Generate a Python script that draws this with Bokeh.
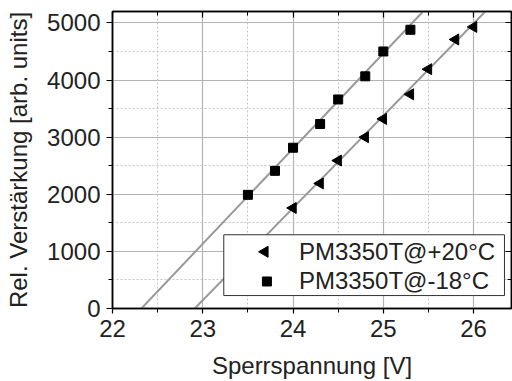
import numpy as np
from bokeh.plotting import figure
from bokeh.models import (LinearAxis, SingleIntervalTicker, Range1d, Legend,
                          LegendItem, Grid)
from bokeh.embed import file_html
from bokeh.resources import INLINE

# data
v_p20 = [24.0, 24.3, 24.5, 24.8, 25.0, 25.3, 25.5, 25.8, 26.0]
g_p20 = [1760, 2190, 2590, 3000, 3320, 3750, 4190, 4710, 4930]
v_m18 = [23.5, 23.8, 24.0, 24.3, 24.5, 24.8, 25.0, 25.3]
g_m18 = [1990, 2410, 2815, 3230, 3660, 4065, 4500, 4880]
# fitted line endpoints (V, gain)
fit_p20_x = [22.91, 26.13]
fit_p20_y = [0, 5200]
fit_m18_x = [22.32, 25.44]
fit_m18_y = [0, 5200]
label_p20 = "PM3350T@+20°C"
label_m18 = "PM3350T@-18°C"

X0, X1 = 22, 26.42
Y0, Y1 = 0, 5200

FONT = "Liberation Sans"
FS = "24px"

p = figure(width=512, height=381, output_backend="svg", toolbar_location=None,
           x_range=Range1d(X0, X1), y_range=Range1d(Y0, Y1),
           min_border_left=112, min_border_right=1, min_border_top=11,
           min_border_bottom=60, x_axis_location=None, y_axis_location=None)
p.background_fill_color = "white"
p.border_fill_color = "white"
p.outline_line_color = "black"
p.outline_line_width = 1.5

xt = SingleIntervalTicker(interval=1, num_minor_ticks=2)
yt = SingleIntervalTicker(interval=1000, num_minor_ticks=2)

def style_axis(ax, labels=True):
    ax.axis_line_color = "black"
    ax.axis_line_width = 1.5
    ax.major_tick_line_color = "black"
    ax.minor_tick_line_color = "black"
    ax.major_tick_line_width = 1.2
    ax.minor_tick_line_width = 1.0
    ax.major_label_text_font = FONT
    if labels:
        ax.major_label_text_font_size = FS
        ax.major_label_text_color = "#222222"
    else:
        ax.major_label_text_font_size = "1px"
        ax.major_label_text_color = None
    ax.axis_label_text_font = FONT
    ax.axis_label_text_font_size = FS
    ax.axis_label_text_font_style = "normal"
    ax.axis_label_text_color = "#222222"

xb = LinearAxis(ticker=xt, axis_label="Sperrspannung [V]")
style_axis(xb)
xb.major_tick_out = 5
xb.major_tick_in = 0
xb.minor_tick_out = 4
xb.minor_tick_in = 0
xb.major_label_standoff = 6
xb.axis_label_standoff = 12
p.add_layout(xb, "below")

yl = LinearAxis(ticker=yt, axis_label="Rel. Verstärkung [arb. units]")
style_axis(yl)
yl.major_tick_out = 6
yl.major_tick_in = 0
yl.minor_tick_out = 4
yl.minor_tick_in = 0
yl.major_label_standoff = 6
yl.axis_label_standoff = 12
p.add_layout(yl, "left")

xtop = LinearAxis(ticker=xt)
style_axis(xtop, labels=False)
xtop.major_tick_out = 0
xtop.major_tick_in = 6
xtop.minor_tick_out = 0
xtop.minor_tick_in = 4
xtop.major_label_standoff = 0
p.add_layout(xtop, "above")

yr = LinearAxis(ticker=yt)
style_axis(yr, labels=False)
yr.major_tick_out = 0
yr.major_tick_in = 6
yr.minor_tick_out = 0
yr.minor_tick_in = 4
yr.major_label_standoff = 0
p.add_layout(yr, "right")

gx = Grid(dimension=0, ticker=xt)
gy = Grid(dimension=1, ticker=yt)
for g in (gx, gy):
    g.grid_line_color = "#b4b4b4"
    g.grid_line_width = 1.2
    g.minor_grid_line_color = "#c4c4c4"
    g.minor_grid_line_width = 1
    g.minor_grid_line_dash = "2 2"
    p.add_layout(g)

p.line(fit_m18_x, fit_m18_y, line_color="#999999", line_width=2)
p.line(fit_p20_x, fit_p20_y, line_color="#999999", line_width=2)

p.scatter(v_p20, g_p20, marker="triangle", size=11, angle=np.pi / 2,
          fill_color="black", line_color="black")
p.scatter(v_m18, g_m18, marker="square", size=9,
          fill_color="black", line_color="black")

# legend box and keys, placed at fractions of the frame (layout, not data);
# drawn here because Bokeh's legend does not rotate the triangle marker
def fx(f):
    return X0 + f * (X1 - X0)

def fy(f):
    return Y0 + f * (Y1 - Y0)

p.quad(left=[fx(0.2789)], right=[fx(0.9824)], bottom=[fy(0.0436)], top=[fy(0.2483)],
       fill_color="white", line_color="#333333", line_width=1)
p.scatter([fx(0.382)], [fy(0.191)], marker="triangle", size=11, angle=np.pi / 2,
          fill_color="black", line_color="black")
p.scatter([fx(0.387)], [fy(0.091)], marker="square", size=9,
          fill_color="black", line_color="black")

dummy = p.scatter([], [], marker="square", size=0, fill_alpha=0, line_alpha=0)

legend = Legend(items=[LegendItem(label=label_p20, renderers=[dummy]),
                       LegendItem(label=label_m18, renderers=[dummy])],
                location=(111, 13))
legend.label_text_font = FONT
legend.label_text_font_size = FS
legend.label_text_color = "#222222"
legend.border_line_color = None
legend.background_fill_alpha = 0
legend.margin = 0
legend.padding = 2
legend.spacing = 0
legend.label_height = 29
legend.glyph_height = 24
legend.glyph_width = 70
legend.label_standoff = 6
p.add_layout(legend, "center")

open("out.html", "w").write(file_html(p, INLINE))
